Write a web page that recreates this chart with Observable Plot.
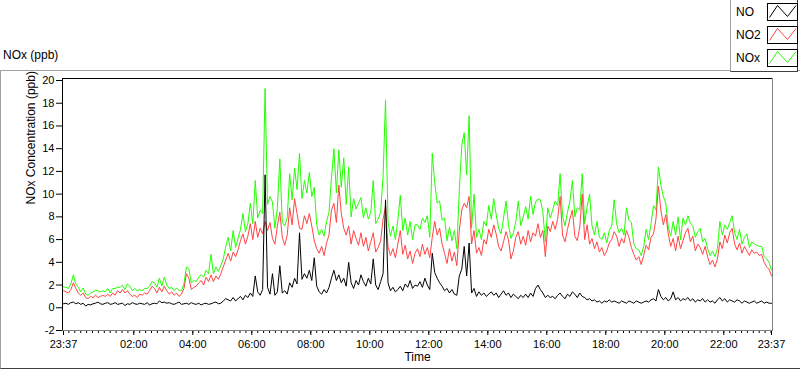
<!DOCTYPE html>
<html><head><meta charset="utf-8">
<script src="https://cdn.jsdelivr.net/npm/d3@7"></script>
<script src="https://cdn.jsdelivr.net/npm/@observablehq/plot@0.6"></script>
<style>
html,body{margin:0;padding:0;background:#fff;}
#root{position:relative;width:800px;height:369px;overflow:hidden;font-family:"Liberation Sans",Arial,sans-serif;color:#000;}
#frame{position:absolute;left:0;top:70px;width:800px;height:299px;box-sizing:border-box;border-top:1px solid #a0a0a0;border-left:1px solid #a0a0a0;border-bottom:1px solid #404040;}
#title{position:absolute;left:3px;top:48px;font-size:12px;line-height:14px;}
#legend{position:absolute;left:730px;top:-1px;width:68px;height:73px;box-sizing:border-box;border-left:1px solid #a0a0a0;border-bottom:1px solid #404040;border-right:1px solid #404040;background:#fff;}
.row{position:absolute;left:0;width:66px;height:18px;}
.row span{position:absolute;left:5px;top:2px;font-size:12px;line-height:14px;}
.row svg{position:absolute;left:36px;top:0;}
#chart{position:absolute;left:0;top:70px;}
</style>
</head><body>
<div id="root">
  <div id="frame"></div>
  <div id="title">NOx (ppb)</div>
  <div id="chart"></div>
  <div id="legend"></div>
</div>
<script>
// sampling: every 5 minutes starting 23:37
const STEP_MIN = 5;
const seriesNames = ["NO", "NO2", "NOx"];
const seriesColors = ["#000000", "#ff4444", "#22ff00"];

const NO = [
0.35,0.4,0.3,0.45,0.5,0.35,0.45,0.3,0.4,0.15,
0.3,0.25,0.35,0.4,0.5,0.35,0.3,0.4,0.45,0.3,
0.35,0.45,0.3,0.35,0.4,0.2,0.35,0.3,0.45,0.35,
0.3,0.4,0.35,0.3,0.45,0.25,0.35,0.4,0.35,0.6,
0.45,0.5,0.4,0.45,0.35,0.3,0.4,0.5,
0.3,0.35,0.4,0.3,0.45,0.35,0.3,0.4,0.25,0.35,
0.4,0.3,0.35,0.45,0.5,0.35,0.4,0.6,0.8,0.7,
0.6,0.9,0.6,0.8,1.0,0.7,1.1,0.9,1.3,1.0,
2.8,1.4,1.1,1.6,11.7,1.8,1.2,3.0,1.1,1.4,
3.7,1.3,1.5,1.2,2.2,1.8,2.6,2.1,
6.6,2.5,3.0,2.6,3.3,2.4,4.4,1.9,1.4,1.2,
1.6,1.3,1.8,2.6,3.3,2.4,2.9,2.2,2.6,1.9,
4.0,2.2,1.7,2.4,2.0,2.9,2.3,1.9,2.6,2.1,
4.3,2.0,1.6,2.3,3.0,9.5,2.2,1.5,1.8,1.4,
1.6,1.9,1.5,2.1,1.8,2.4,1.7,2.0,
1.9,2.3,1.8,2.6,2.0,1.6,4.8,3.1,2.6,2.2,
1.9,1.5,1.7,1.3,1.6,1.2,1.1,2.8,3.4,5.4,
2.8,5.7,1.3,1.7,1.0,1.4,1.1,1.3,1.0,1.2,
1.4,1.1,1.3,0.9,1.2,1.5,1.1,1.3,0.9,1.2,
1.0,0.8,1.1,0.9,1.2,0.9,1.3,1.0,
1.7,2.0,1.6,1.3,0.9,1.1,0.9,1.0,0.8,1.1,
1.3,1.0,0.8,1.2,1.0,1.4,1.2,0.9,1.3,1.0,
0.9,0.7,0.8,0.6,0.7,0.5,0.6,0.4,0.6,0.5,
0.7,0.5,0.6,0.5,0.4,0.6,0.5,0.4,0.6,0.5,
0.4,0.6,0.5,0.4,0.5,0.6,0.5,0.7,
0.8,0.6,1.6,1.0,0.7,0.9,0.6,0.8,1.4,0.7,
0.9,0.6,0.8,0.7,0.9,0.6,0.8,0.5,0.7,0.6,
0.8,0.5,0.7,0.5,0.6,0.4,0.7,0.9,0.6,0.8,
0.5,0.7,0.6,0.5,0.7,0.6,0.4,0.6,0.5,0.4,
0.5,0.6,0.4,0.5,0.6,0.4,0.5,0.4,0.4
];

const NO2 = [
1.5,1.4,1.3,1.6,2.2,1.7,1.3,1.1,1.3,0.9,
0.8,1.0,0.9,1.1,0.9,1.0,1.1,1.0,1.2,1.0,
1.3,1.1,1.5,1.3,1.6,1.3,1.5,1.2,1.0,1.1,
0.9,1.2,1.1,1.3,1.2,1.5,1.9,1.7,1.3,1.8,
1.4,1.9,1.5,1.2,1.4,1.1,1.3,1.0,
1.2,1.7,3.0,2.6,1.6,1.8,1.9,2.2,2.4,2.0,
2.7,2.3,2.9,2.3,2.8,2.5,3.0,3.6,4.2,4.8,
4.1,4.9,4.5,5.1,5.9,6.5,5.6,6.3,7.4,6.0,
7.6,6.2,7.0,6.5,7.6,6.8,7.5,6.1,5.6,7.2,
8.4,6.2,5.5,6.4,8.8,7.3,9.6,8.3,
7.0,6.9,8.1,7.4,8.3,7.2,5.9,5.2,4.8,5.4,
4.6,5.7,6.4,8.6,9.2,7.5,10.8,8.3,7.0,6.4,
7.2,5.6,6.8,6.1,5.5,6.6,5.4,6.2,5.0,5.8,
6.6,4.9,5.3,5.9,7.8,8.9,5.4,4.6,5.2,4.4,
5.6,6.8,4.7,5.5,4.3,5.0,3.9,4.8,
5.2,4.5,5.6,4.7,5.3,4.4,6.2,7.6,6.4,7.0,
5.6,4.8,3.9,5.2,4.1,4.9,3.7,6.8,8.6,9.2,
8.8,9.8,5.6,6.8,4.8,5.3,4.6,6.0,5.6,6.9,
6.2,7.3,6.5,5.4,5.0,5.8,6.7,6.0,4.3,5.0,
6.2,6.7,5.6,6.3,5.5,6.8,5.8,6.6,
6.3,7.4,6.2,6.8,4.5,7.2,6.7,7.6,6.9,7.8,
9.8,6.4,5.8,6.9,7.8,8.6,6.3,5.9,7.1,10.0,
6.0,7.3,5.6,6.1,5.2,5.8,4.9,5.3,4.6,5.0,
5.7,6.0,6.7,6.3,5.4,6.1,5.7,6.8,6.2,5.3,
4.7,4.2,4.5,3.8,4.6,5.5,5.1,6.2,
6.5,7.8,10.7,8.6,7.3,8.2,6.5,5.4,6.1,5.0,
6.3,5.2,5.9,6.6,7.0,5.8,6.3,5.0,5.6,5.3,
4.7,5.4,4.5,3.8,4.2,3.6,4.3,5.8,5.2,6.4,
5.7,6.6,7.0,5.6,5.1,5.7,4.8,5.4,5.0,4.6,
5.1,4.8,4.9,4.6,4.7,4.0,3.6,3.4,2.8
];

const NOx = [
1.85,1.8,1.7,2.1,2.9,2.1,1.8,1.4,1.75,1.2,
1.1,1.3,1.4,1.55,1.5,1.4,1.5,1.4,1.7,1.3,
1.7,1.7,1.8,1.8,2.0,1.6,2.1,1.9,1.5,1.7,
1.5,1.6,1.5,1.7,1.7,1.9,2.3,2.2,1.8,2.6,
1.9,2.7,2.0,1.7,1.8,1.5,1.75,1.5,
1.5,2.1,3.6,3.4,2.2,2.4,2.3,2.7,2.9,2.7,
3.3,3.0,4.7,3.0,3.6,3.2,3.7,4.3,5.4,6.2,
5.0,6.8,5.3,6.1,6.9,8.3,6.7,7.4,9.2,7.4,
11.2,7.9,8.6,8.3,19.3,9.1,9.8,9.3,7.0,8.8,
13.1,7.5,7.2,7.9,11.8,9.5,12.3,10.4,
13.6,9.6,11.2,10.1,11.9,9.8,10.6,7.3,6.4,6.9,
6.3,7.6,8.4,11.4,14.0,10.1,13.9,10.6,13.2,9.1,
12.4,8.0,9.6,8.7,9.2,9.7,7.9,8.8,7.8,8.4,
11.2,7.4,7.8,8.4,11.6,18.3,7.6,6.3,7.2,6.0,
7.7,9.9,6.8,7.9,6.4,7.6,6.0,7.3,
7.3,6.9,7.9,7.5,8.1,6.2,13.6,11.0,9.2,9.4,
7.7,7.9,5.9,7.1,5.9,6.8,5.2,10.3,14.3,15.4,
11.7,16.9,7.0,10.0,6.2,6.9,6.0,7.6,7.2,9.0,
7.8,9.6,8.2,7.0,6.5,7.9,9.4,7.3,6.1,6.6,
7.6,9.4,7.2,8.0,8.9,7.8,9.8,8.2,
9.3,9.6,9.5,8.4,5.8,8.8,7.9,8.6,9.4,9.0,
11.8,8.1,7.2,8.4,9.4,11.2,8.0,8.8,8.6,11.8,
7.4,8.9,10.0,7.2,6.4,7.6,6.2,6.0,6.6,5.7,
6.8,7.2,9.5,7.4,6.6,7.0,6.4,8.8,7.7,7.5,
5.6,5.2,5.1,4.6,5.4,6.9,6.0,7.4,
9.0,8.6,12.4,10.8,9.8,9.2,7.1,6.3,7.6,6.4,
8.0,6.0,7.9,7.3,8.1,7.4,7.2,6.2,6.7,7.0,
5.8,6.1,5.2,4.6,5.0,4.5,5.2,7.6,6.4,7.3,
6.9,7.5,8.1,6.6,6.0,6.9,5.6,6.2,6.5,5.3,
5.8,5.6,5.5,5.4,5.4,4.5,4.3,4.0,3.3
];

// x tick labels and their positions (minutes after 23:37)
const xTickLabels = ["23:37","02:00","04:00","06:00","08:00","10:00","12:00","14:00","16:00","18:00","20:00","22:00","23:37"];
const xTickMinutes = [0,143,263,383,503,623,743,863,983,1103,1223,1343,1440];
const yTicks = [-2,0,2,4,6,8,10,12,14,16,18,20];

const minorTicks = [];
for (let m = 11; m < 1440; m += 12) minorTicks.push(m);
const labelOf = new Map(xTickMinutes.map((m, i) => [m, xTickLabels[i]]));

const rows = NO.map((v, i) => ({t: i * STEP_MIN, NO: v, NO2: NO2[i], NOx: NOx[i]}));

const chart = Plot.plot({
  width: 800, height: 299,
  marginTop: 8, marginBottom: 39, marginLeft: 62, marginRight: 28,
  style: {fontFamily: "'Liberation Sans', Arial, sans-serif", fontSize: "11px", background: "transparent", color: "#000", overflow: "visible"},
  x: {type: "linear", domain: [0, 1440], range: [63, 771]},
  y: {domain: [-2, 20], range: [260, 10]},
  marks: [
    Plot.axisY({ticks: yTicks, tickSize: 6, tickPadding: 2, label: null, tickFormat: d => String(d)}),
    Plot.axisX({ticks: minorTicks, tickSize: 3, tickFormat: () => "", label: null}),
    Plot.axisX({ticks: xTickMinutes, tickSize: 5, tickPadding: 5, tickFormat: d => labelOf.get(d), label: null}),
    Plot.line(rows, {x: "t", y: "NOx", stroke: seriesColors[2], strokeWidth: 1}),
    Plot.line(rows, {x: "t", y: "NO2", stroke: seriesColors[1], strokeWidth: 1}),
    Plot.line(rows, {x: "t", y: "NO", stroke: seriesColors[0], strokeWidth: 1}),
    Plot.frame({anchor: "top", stroke: "#000"}),
    Plot.frame({anchor: "left", stroke: "#000"}),
    Plot.frame({anchor: "bottom", stroke: "#808080"}),
    Plot.frame({anchor: "right", stroke: "#808080"}),
    Plot.text(["NOx Concentration (ppb)"], {frameAnchor: "left", rotate: -90, dx: -31, fontSize: 12}),
    Plot.text(["Time"], {frameAnchor: "bottom", dy: 30, fontSize: 12})
  ]
});
document.getElementById("chart").appendChild(chart);

// legend
const legend = document.getElementById("legend");
seriesNames.forEach((name, i) => {
  const row = document.createElement("div");
  row.className = "row";
  row.style.top = (4 + i * 23) + "px";
  row.innerHTML = `<span>${name}</span><svg width="31" height="18"><rect x="0.5" y="0.5" width="30" height="17" fill="#fff" stroke="#000"/><polyline points="2.5,14.5 10.5,2.5 20.5,13.5 29,2.5" fill="none" stroke="${seriesColors[i]}" stroke-width="1"/></svg>`;
  legend.appendChild(row);
});
</script>
</body></html>
